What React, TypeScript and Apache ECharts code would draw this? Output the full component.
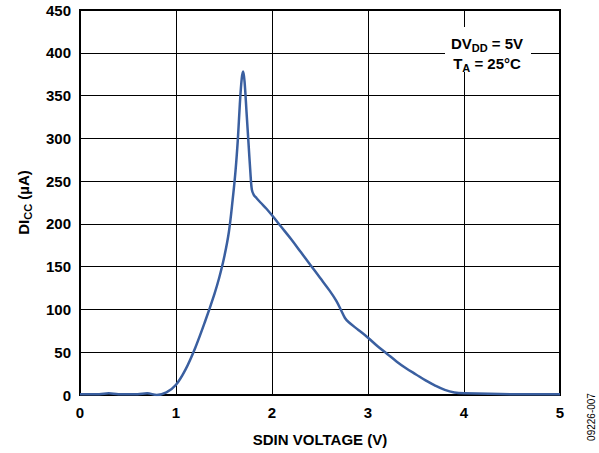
import React, { useEffect, useRef } from "react";
import * as echarts from "echarts";

const voltage = [0, 0.1, 0.2, 0.3, 0.4, 0.5, 0.6, 0.7, 0.8, 0.9, 1.0, 1.1, 1.2, 1.3, 1.4, 1.45, 1.5, 1.55, 1.59, 1.62, 1.645, 1.665, 1.685, 1.7, 1.715, 1.735, 1.755, 1.775, 1.79, 1.81, 1.84, 1.88, 1.94, 2.0, 2.1, 2.2, 2.3, 2.4, 2.5, 2.6, 2.67, 2.72, 2.76, 2.8, 2.9, 3.0, 3.1, 3.2, 3.3, 3.4, 3.5, 3.6, 3.7, 3.8, 3.9, 4.0, 4.5, 5.0];
const current = [1, 1, 1, 2, 1, 1, 1, 2, 0, 3, 12, 30, 55, 85, 118, 137, 160, 190, 228, 262, 300, 340, 370, 378, 365, 330, 295, 260, 240, 234, 230, 225, 218, 210, 196, 182, 167, 152, 137, 122, 110, 99, 90, 85, 76, 67, 57, 48, 39, 31, 24, 17, 11, 6, 3, 2, 1, 1];

const xTicks = [0, 1, 2, 3, 4, 5];
const yTicks = [0, 50, 100, 150, 200, 250, 300, 350, 400, 450];

const FONT = "'Liberation Sans', Arial, Helvetica, sans-serif";

export default function App() {
  const ref = useRef<HTMLDivElement>(null);
  useEffect(() => {
    document.body.style.margin = "0";
    const chart = echarts.init(ref.current!, null, { renderer: "svg" });
    const main = { fontFamily: FONT, fontWeight: "bold", fontSize: 15, color: "#000" };
    const sub = { fontFamily: FONT, fontWeight: "bold", fontSize: 11, color: "#000", padding: [9, 0, 0, 0] };
    chart.setOption({
      animation: false,
      backgroundColor: "#fff",
      grid: {
        left: 80,
        right: 39,
        top: 10,
        bottom: 58,
        show: true,
        borderColor: "#000",
        borderWidth: 2,
        backgroundColor: "transparent",
      },
      xAxis: {
        type: "value",
        min: xTicks[0],
        max: xTicks[xTicks.length - 1],
        interval: 1,
        name: "SDIN VOLTAGE (V)",
        nameLocation: "middle",
        nameGap: 37,
        nameTextStyle: { fontFamily: FONT, fontWeight: "bold", fontSize: 15, color: "#000" },
        axisLine: { lineStyle: { color: "#000", width: 2 } },
        axisTick: { show: false },
        axisLabel: { fontFamily: FONT, fontWeight: "bold", fontSize: 15, color: "#000", margin: 10 },
        splitLine: { show: true, lineStyle: { color: "#000", width: 1 } },
      },
      yAxis: {
        type: "value",
        min: yTicks[0],
        max: yTicks[yTicks.length - 1],
        interval: 50,
        name: "{a|DI}{s|CC}{a| (µA)}",
        nameLocation: "middle",
        nameGap: 47,
        nameTextStyle: { rich: { a: main, s: sub } },
        axisLine: { lineStyle: { color: "#000", width: 2 } },
        axisTick: { show: false },
        axisLabel: { fontFamily: FONT, fontWeight: "bold", fontSize: 15, color: "#000", margin: 9 },
        splitLine: { show: true, lineStyle: { color: "#000", width: 1 } },
      },
      graphic: [
        {
          type: "rect",
          shape: { x: 445, y: 27, width: 86, height: 45 },
          style: { fill: "#fff" },
          z: 10,
        },
        {
          type: "text",
          x: 487,
          y: 43,
          z: 11,
          style: {
            text: "{a|DV}{s|DD}{a| = 5V}",
            align: "center",
            verticalAlign: "middle",
            rich: { a: main, s: sub },
          },
        },
        {
          type: "text",
          x: 487,
          y: 63,
          z: 11,
          style: {
            text: "{a|T}{s|A}{a| = 25°C}",
            align: "center",
            verticalAlign: "middle",
            rich: { a: main, s: sub },
          },
        },
        {
          type: "text",
          x: 591,
          y: 417,
          rotation: Math.PI / 2,
          style: {
            text: "09226-007",
            fontFamily: FONT,
            fontSize: 10,
            fill: "#000",
            align: "center",
            verticalAlign: "middle",
          },
        },
      ],
      series: [
        {
          type: "line",
          data: voltage.map((v, i) => [v, current[i]]),
          smooth: 0.35,
          showSymbol: false,
          lineStyle: { color: "#3a5fa0", width: 2.5 },
          z: 5,
        },
      ],
    });
    return () => chart.dispose();
  }, []);
  return <div ref={ref} style={{ position: "fixed", left: 0, top: 0, width: 599, height: 453 }} />;
}
